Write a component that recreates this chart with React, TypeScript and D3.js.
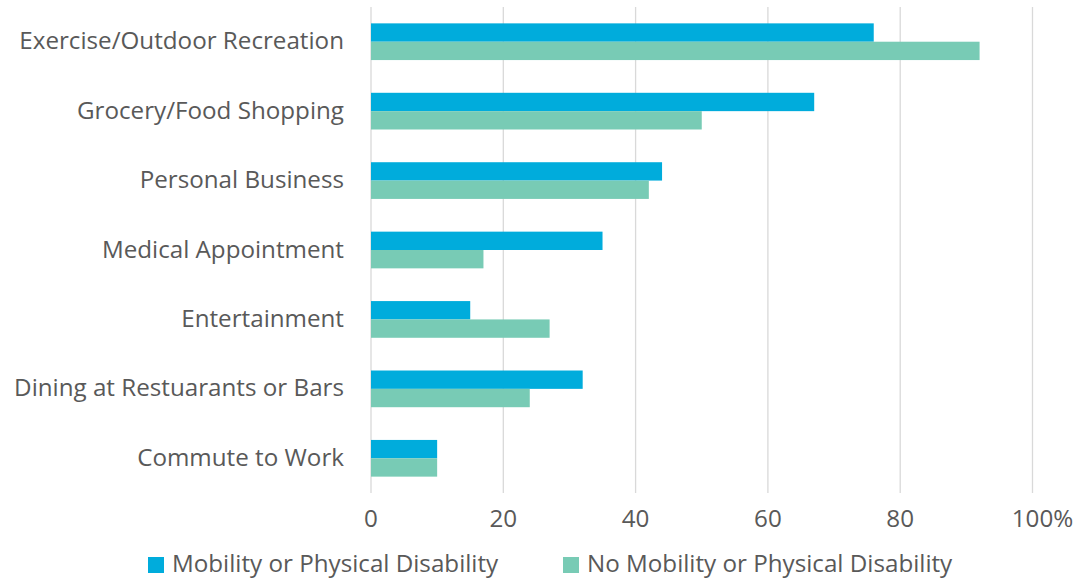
import React from "react";
import * as d3 from "d3";

const categories = [
  "Exercise/Outdoor Recreation",
  "Grocery/Food Shopping",
  "Personal Business",
  "Medical Appointment",
  "Entertainment",
  "Dining at Restuarants or Bars",
  "Commute to Work",
];
const mobility = [76, 67, 44, 35, 15, 32, 10];
const noMobility = [92, 50, 42, 17, 27, 24, 10];
const ticks = [0, 20, 40, 60, 80, 100];
const seriesNames = ["Mobility or Physical Disability", "No Mobility or Physical Disability"];
const colors = ["#00ACDC", "#78CBB5"];

const W = 1082;
const H = 579;
const FONT = "'Open Sans', sans-serif";
const TEXT = "#595959";
const FS = 24.2;

export default function App() {
  const x = d3.scaleLinear().domain([0, 100]).range([371, 1032.5]);
  const y = d3.scaleBand().domain(categories).range([7, 493]).paddingInner(0).paddingOuter(0);
  const groupH = 36.7;
  const barH = groupH / 2;
  const series = [mobility, noMobility];

  return (
    <svg width={W} height={H} style={{ position: "absolute", left: 0, top: 0, background: "#fff" }}>
      {ticks.map((t) => (
        <line key={t} x1={x(t)} x2={x(t)} y1={7} y2={493} stroke="#D9D9D9" strokeWidth={1.3} />
      ))}
      {categories.map((c, i) => {
        const cy = (y(c) as number) + y.bandwidth() / 2;
        return (
          <g key={c}>
            {series.map((s, j) => (
              <rect
                key={j}
                x={x(0)}
                y={cy - groupH / 2 + j * barH}
                width={x(s[i]) - x(0)}
                height={barH}
                fill={colors[j]}
              />
            ))}
            <text
              x={344}
              y={cy - 2}
              textAnchor="end"
              dominantBaseline="central"
              fontFamily={FONT}
              fontSize={FS}
              fill={TEXT}
            >
              {c}
            </text>
          </g>
        );
      })}
      {ticks.map((t) => (
        <text
          key={t}
          x={x(t) + (t === 100 ? 10 : 0)}
          y={517}
          textAnchor="middle"
          dominantBaseline="central"
          fontFamily={FONT}
          fontSize={FS}
          fill={TEXT}
        >
          {t === 100 ? "100%" : String(t)}
        </text>
      ))}
      {seriesNames.map((n, j) => {
        const lx = j === 0 ? 148 : 563;
        return (
          <g key={n}>
            <rect x={lx} y={557} width={16} height={16} fill={colors[j]} />
            <text
              x={lx + 24}
              y={562}
              dominantBaseline="central"
              fontFamily={FONT}
              fontSize={FS}
              fill={TEXT}
            >
              {n}
            </text>
          </g>
        );
      })}
    </svg>
  );
}
